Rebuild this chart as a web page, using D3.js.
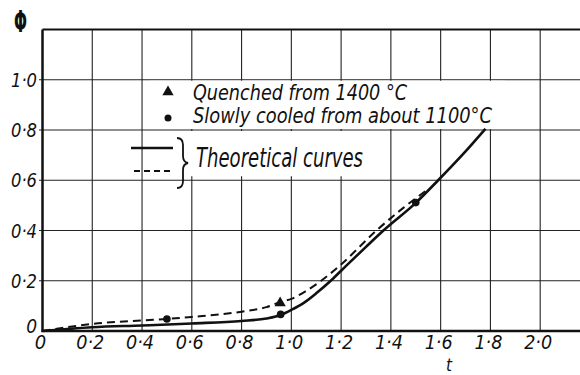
<!DOCTYPE html>
<html>
<head>
<meta charset="utf-8">
<script src="https://cdn.jsdelivr.net/npm/d3@7"></script>
<style>
  html, body { margin: 0; padding: 0; background: #fff; }
  svg { display: block; }
  .lbl { font-family: "Liberation Sans Narrow", "DejaVu Sans Condensed", "DejaVu Sans", sans-serif; font-style: italic; fill: #111; }
</style>
</head>
<body>
<div id="chart"></div>
<script>
// ticks
const xTicks = [0, 0.2, 0.4, 0.6, 0.8, 1.0, 1.2, 1.4, 1.6, 1.8, 2.0];
const xTickLabels = ['0', '0·2', '0·4', '0·6', '0·8', '1·0', '1·2', '1·4', '1·6', '1·8', '2·0'];
const yTicks = [0, 0.2, 0.4, 0.6, 0.8, 1.0];
const yTickLabels = ['0', '0·2', '0·4', '0·6', '0·8', '1·0'];

// theoretical curves
const solidT   = [0, 0.1, 0.2, 0.4, 0.6, 0.8, 0.9, 0.96, 1.0, 1.05, 1.1, 1.155, 1.2, 1.3, 1.37, 1.5, 1.59, 1.7, 1.78];
const solidPhi = [0, 0.008, 0.015, 0.022, 0.03, 0.04, 0.05, 0.065, 0.084, 0.112, 0.15, 0.197, 0.24, 0.335, 0.4, 0.51, 0.6, 0.715, 0.805];
const dashT    = [0, 0.1, 0.2, 0.4, 0.5, 0.6, 0.8, 0.9, 0.96, 1.0, 1.06, 1.12, 1.2, 1.342, 1.45, 1.55];
const dashPhi  = [0, 0.015, 0.028, 0.042, 0.048, 0.056, 0.077, 0.095, 0.117, 0.128, 0.16, 0.2, 0.265, 0.4, 0.49, 0.565];

// measured points
const quenchedT   = [0.955];
const quenchedPhi = [0.115];
const slowT   = [0.5, 0.957, 1.5];
const slowPhi = [0.048, 0.066, 0.511];

const legendQuenched = 'Quenched from 1400 °C';
const legendSlow = 'Slowly cooled from about 1100°C';
const legendTheory = 'Theoretical curves';

const W = 580, H = 375;
const svg = d3.select('#chart').append('svg')
  .attr('width', W).attr('height', H);

const x = d3.scaleLinear().domain([0, 2.16]).range([42.5, 580]);
const y = d3.scaleLinear().domain([0, 1.2]).range([331, 29.5]);

// grid
const grid = svg.append('g').attr('stroke', '#222').attr('stroke-width', 1.1);
grid.selectAll('line.v')
  .data(xTicks.slice(1))
  .enter().append('line')
  .attr('x1', d => x(d)).attr('x2', d => x(d))
  .attr('y1', y(1.2)).attr('y2', y(0));
grid.selectAll('line.h')
  .data(yTicks.slice(1))
  .enter().append('line')
  .attr('x1', 39).attr('x2', W)
  .attr('y1', d => y(d)).attr('y2', d => y(d));

// legend blanks over the grid
svg.append('rect').attr('x', 150).attr('y', y(1.0) + 1).attr('width', 355).attr('height', y(0.8) - y(1.0) - 2).attr('fill', '#fff');
svg.append('rect').attr('x', 150).attr('y', y(0.8) + 1).attr('width', 222).attr('height', y(0.6) - y(0.8) - 5).attr('fill', '#fff');

// frame
svg.append('line').attr('x1', x(0)).attr('x2', W).attr('y1', y(1.2)).attr('y2', y(1.2))
  .attr('stroke', '#111').attr('stroke-width', 2);
svg.append('line').attr('x1', x(0)).attr('x2', x(0)).attr('y1', y(1.2)).attr('y2', y(0) + 1)
  .attr('stroke', '#111').attr('stroke-width', 2.5);
svg.append('line').attr('x1', x(0) - 1).attr('x2', W).attr('y1', y(0)).attr('y2', y(0))
  .attr('stroke', '#111').attr('stroke-width', 2.5);

// tick labels
svg.append('g').selectAll('text')
  .data(xTicks)
  .enter().append('text')
  .attr('class', 'lbl')
  .attr('x', d => x(d) - 2)
  .attr('y', 349)
  .attr('text-anchor', 'middle')
  .attr('font-size', 20)
  .attr('textLength', (d, i) => xTickLabels[i].length > 1 ? 28 : null)
  .attr('lengthAdjust', 'spacingAndGlyphs')
  .text((d, i) => xTickLabels[i]);

svg.append('g').selectAll('text')
  .data(yTicks)
  .enter().append('text')
  .attr('class', 'lbl')
  .attr('x', 37)
  .attr('y', d => d === 0 ? y(d) + 2 : y(d) + 7)
  .attr('text-anchor', 'end')
  .attr('font-size', 19)
  .attr('textLength', (d, i) => yTickLabels[i].length > 1 ? 26 : null)
  .attr('lengthAdjust', 'spacingAndGlyphs')
  .text((d, i) => yTickLabels[i]);

// axis titles
svg.append('text').attr('x', 14).attr('y', 32)
  .attr('font-family', 'DejaVu Sans, sans-serif').attr('font-size', 30).attr('font-weight', 'bold').attr('fill', '#111')
  .attr('textLength', 13).attr('lengthAdjust', 'spacingAndGlyphs')
  .text('Φ');
svg.append('text').attr('class', 'lbl').attr('x', 449).attr('y', 371).attr('text-anchor', 'middle')
  .attr('font-size', 17).text('t');

// curves
const solidData = solidT.map((t, i) => [t, solidPhi[i]]);
const dashData = dashT.map((t, i) => [t, dashPhi[i]]);
const line = d3.line().x(d => x(d[0])).y(d => y(d[1])).curve(d3.curveMonotoneX);

svg.append('path').datum(dashData)
  .attr('fill', 'none').attr('stroke', '#111').attr('stroke-width', 2)
  .attr('stroke-dasharray', '8,5').attr('d', line);
svg.append('path').datum(solidData)
  .attr('fill', 'none').attr('stroke', '#111').attr('stroke-width', 2.6)
  .attr('d', line);

// points
const tri = d3.symbol().type(d3.symbolTriangle).size(55);
svg.append('g').selectAll('path')
  .data(quenchedT)
  .enter().append('path')
  .attr('transform', (d, i) => `translate(${x(d)},${y(quenchedPhi[i]) + 1})`)
  .attr('d', tri).attr('fill', '#111');
svg.append('g').selectAll('circle')
  .data(slowT)
  .enter().append('circle')
  .attr('cx', d => x(d)).attr('cy', (d, i) => y(slowPhi[i]))
  .attr('r', 3.8).attr('fill', '#111');

// legend
svg.append('path').attr('transform', 'translate(168,92)').attr('d', tri).attr('fill', '#111');
svg.append('circle').attr('cx', 168).attr('cy', 118).attr('r', 3.5).attr('fill', '#111');
svg.append('text').attr('class', 'lbl').attr('x', 193).attr('y', 100)
  .attr('font-size', 22).attr('textLength', 214).attr('lengthAdjust', 'spacingAndGlyphs')
  .text(legendQuenched);
svg.append('text').attr('class', 'lbl').attr('x', 193).attr('y', 123)
  .attr('font-size', 22).attr('textLength', 299).attr('lengthAdjust', 'spacingAndGlyphs')
  .text(legendSlow);

svg.append('line').attr('x1', 131).attr('x2', 173).attr('y1', 148).attr('y2', 148)
  .attr('stroke', '#111').attr('stroke-width', 2.6);
svg.append('line').attr('x1', 134).attr('x2', 173).attr('y1', 171).attr('y2', 171)
  .attr('stroke', '#111').attr('stroke-width', 1.8).attr('stroke-dasharray', '6,4');
// brace
svg.append('path')
  .attr('d', 'M177,138 Q183,138 183,145 L183,156 Q183,162 188,163 Q183,164 183,170 L183,181 Q183,188 177,188')
  .attr('fill', 'none').attr('stroke', '#111').attr('stroke-width', 1.8);
svg.append('text').attr('class', 'lbl').attr('x', 196).attr('y', 167)
  .attr('font-size', 26).attr('textLength', 167).attr('lengthAdjust', 'spacingAndGlyphs')
  .text(legendTheory);
</script>
</body>
</html>
